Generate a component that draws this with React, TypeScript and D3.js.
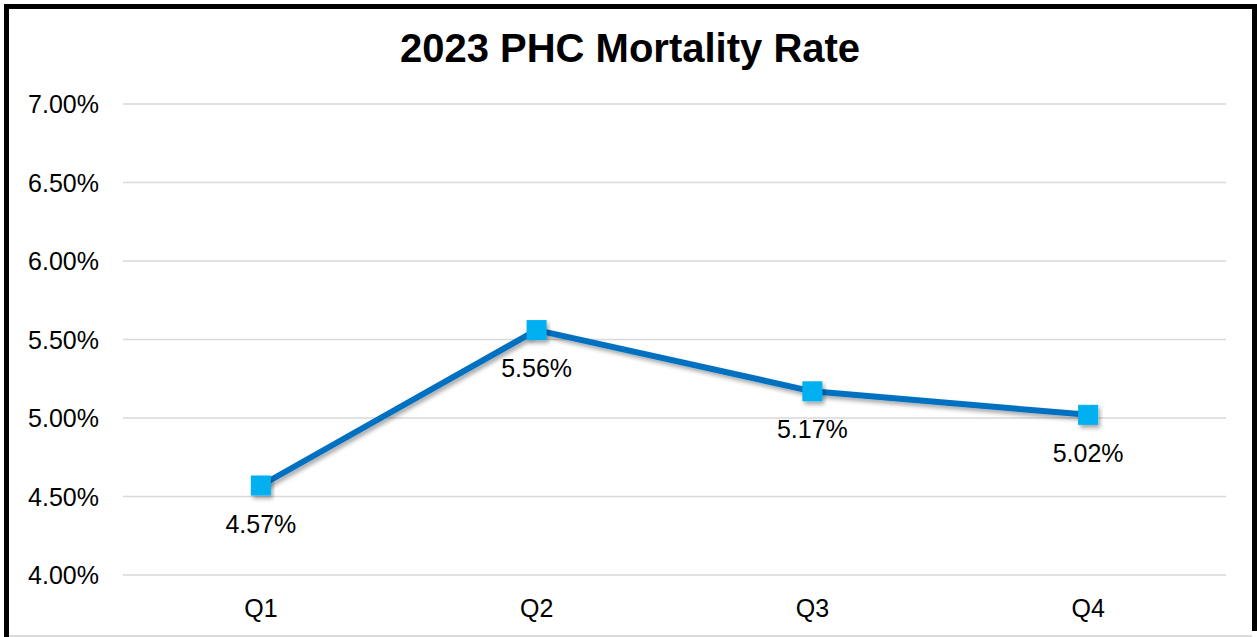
import React from "react";
import * as d3 from "d3";

const categories = ["Q1", "Q2", "Q3", "Q4"];
const values = [4.57, 5.56, 5.17, 5.02];
const yTicks = [4.0, 4.5, 5.0, 5.5, 6.0, 6.5, 7.0];
const title = "2023 PHC Mortality Rate";

const W = 1257;
const H = 637;
const plot = { left: 123, right: 1226, top: 104, bottom: 575 };
const FONT = "Liberation Sans, Arial, sans-serif";

export default function App() {
  const x = d3
    .scaleBand<string>()
    .domain(categories)
    .range([plot.left, plot.right])
    .paddingInner(0)
    .paddingOuter(0);
  const y = d3.scaleLinear().domain([4, 7]).range([plot.bottom, plot.top]);
  const cx = (c: string) => (x(c) as number) + x.bandwidth() / 2;
  const pts = categories.map((c, i) => [cx(c), y(values[i])] as [number, number]);
  const line = d3.line()(pts) as string;
  const ms = 20;

  return (
    <div style={{ position: "absolute", left: 0, top: 0 }}>
      <svg width={W} height={H} style={{ display: "block", background: "#fff" }}>
        <defs>
          <filter id="sh" x="-20%" y="-50%" width="140%" height="200%">
            <feDropShadow dx="2" dy="3" stdDeviation="2" floodColor="#000" floodOpacity="0.35" />
          </filter>
        </defs>
        <rect x={0} y={0} width={W} height={H} fill="#fff" />
        {/* frame */}
        <line x1={6.5} y1={4} x2={6.5} y2={H} stroke="#000" strokeWidth={5} />
        <line x1={4} y1={6.5} x2={1257} y2={6.5} stroke="#000" strokeWidth={5} />
        <line x1={1254.5} y1={4} x2={1254.5} y2={631} stroke="#000" strokeWidth={5} />
        <line x1={9} y1={636} x2={1252} y2={636} stroke="#d0d0d0" strokeWidth={1.5} />

        {/* gridlines */}
        {yTicks.map((t) => (
          <line
            key={t}
            x1={plot.left}
            x2={plot.right}
            y1={y(t)}
            y2={y(t)}
            stroke="#d9d9d9"
            strokeWidth={1.5}
          />
        ))}
        {/* y labels */}
        {yTicks.map((t) => (
          <text
            key={"l" + t}
            x={99}
            y={y(t) + 9}
            textAnchor="end"
            fontFamily={FONT}
            fontSize={25}
            fill="#000"
          >
            {t.toFixed(2) + "%"}
          </text>
        ))}
        {/* x labels */}
        {categories.map((c) => (
          <text
            key={"x" + c}
            x={cx(c)}
            y={617}
            textAnchor="middle"
            fontFamily={FONT}
            fontSize={25}
            fill="#000"
          >
            {c}
          </text>
        ))}
        {/* title */}
        <text
          x={630}
          y={62}
          textAnchor="middle"
          fontFamily={FONT}
          fontSize={40}
          fontWeight="bold"
          fill="#000"
        >
          {title}
        </text>

        {/* line */}
        <path
          d={line}
          fill="none"
          stroke="#0070C0"
          strokeWidth={6}
          strokeLinejoin="round"
          filter="url(#sh)"
        />
        {pts.map((p, i) => (
          <rect
            key={"m" + i}
            x={p[0] - ms / 2}
            y={p[1] - ms / 2}
            width={ms}
            height={ms}
            fill="#00B0F0"
            filter="url(#sh)"
          />
        ))}
        {/* data labels */}
        {pts.map((p, i) => (
          <text
            key={"d" + i}
            x={p[0]}
            y={p[1] + 47}
            textAnchor="middle"
            fontFamily={FONT}
            fontSize={25}
            fill="#000"
          >
            {values[i].toFixed(2) + "%"}
          </text>
        ))}
      </svg>
    </div>
  );
}
